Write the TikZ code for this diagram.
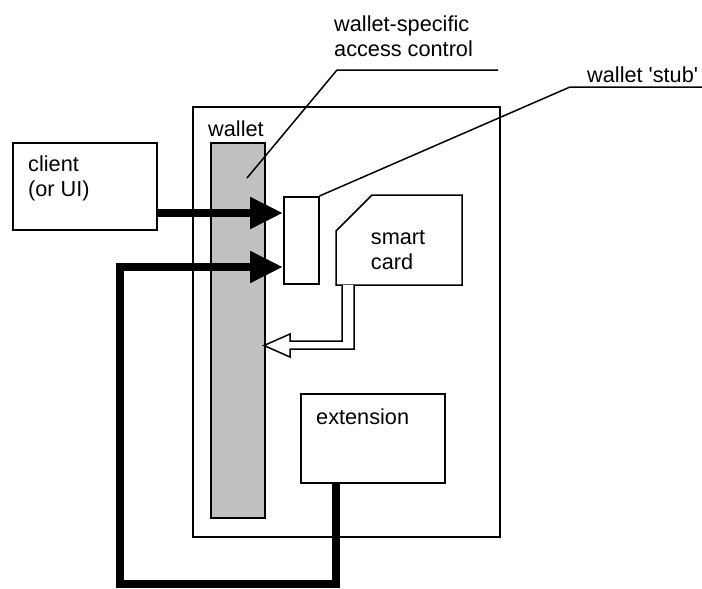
\documentclass[tikz,border=0pt]{standalone}
\usepackage{fontspec}
\setmainfont{Liberation Sans}
\usetikzlibrary{arrows.meta}
\definecolor{barfill}{RGB}{192,192,192}
\tikzset{
  box/.style={draw, fill=white, line width=1.5pt, inner sep=0pt, anchor=north west},
  lbl/.style={inner sep=0pt, anchor=base west, align=left, font=\fontsize{21.7}{25}\selectfont},
  thin/.style={line width=1.5pt},
  fat/.style={line width=8pt, line join=miter},
  fathead/.style={-{Triangle[length=33pt,width=30pt]}}
}
\begin{document}
\begin{tikzpicture}[x=1pt,y=-1pt]
\useasboundingbox (0,0) rectangle (702,589);
% wallet container and bar
\node[box, minimum width=307pt, minimum height=430pt] (wbox) at (192,106) {};
\node[box, fill=barfill, minimum width=54pt, minimum height=375pt] (bar) at (210,142) {};
\node[lbl] (wlabel) at (208,136) {wallet};
% labels with leaders
\node[lbl] (aclabel) at (334,56.7) {wallet-specific\\access control};
\coordinate (acR) at (498,70);
\coordinate (acK) at (337,70);
\coordinate (acE) at (247,178);
\draw[thin] (acR) -- (acK) -- (acE);
\node[lbl] (stublabel) at (587,82) {wallet \textquotesingle stub\textquotesingle};
% boxes
\node[box, minimum width=144pt, minimum height=87pt] (client) at (12,142) {};
\node[lbl] (clientlbl) at (28,196.7) {client\\(or UI)};
\node[box, minimum width=35pt, minimum height=87pt] (stub) at (283,196) {};
\coordinate (stR) at (702,87);
\coordinate (stK) at (570,87);
\draw[thin] (stR) -- (stK) -- (stub.north east);
% smart card
\coordinate (c1) at (336,285);
\coordinate (c2) at (336,231);
\coordinate (c3) at (372,195);
\coordinate (c4) at (462,195);
\coordinate (c5) at (462,285);
\draw[thin, fill=white] (c1) -- (c2) -- (c3) -- (c4) -- (c5) -- cycle;
\node[lbl] (cardlbl) at (370.7,269.3) {smart\\card};
% hollow arrow from smart card to bar
\coordinate (h1) at (342,285);
\coordinate (h2) at (342,341);
\coordinate (h3) at (290,341);
\coordinate (h4) at (290,334);
\coordinate (h5) at (264,345.5);
\coordinate (h6) at (290,357);
\coordinate (h7) at (290,349);
\coordinate (h8) at (354,349);
\coordinate (h9) at (354,285);
\draw[thin, fill=white] (h1) -- (h2) -- (h3) -- (h4) -- (h5) -- (h6) -- (h7) -- (h8) -- (h9);
% extension
\node[box, minimum width=144pt, minimum height=89pt] (ext) at (300,393) {};
\node[lbl] (extlbl) at (316,424) {extension};
% thick arrows
\coordinate (a1) at (0,213);
\coordinate (a2) at (0,267);
\draw[fat, fathead] (client.east |- a1) -- (stub.west |- a1);
\coordinate (p1) at (336,584);
\coordinate (p2) at (120,584);
\coordinate (p3) at (120,267);
\draw[fat, fathead] (ext.south -| p1) -- (p1) -- (p2) -- (p3) -- (stub.west |- a2);
\end{tikzpicture}
\end{document}
